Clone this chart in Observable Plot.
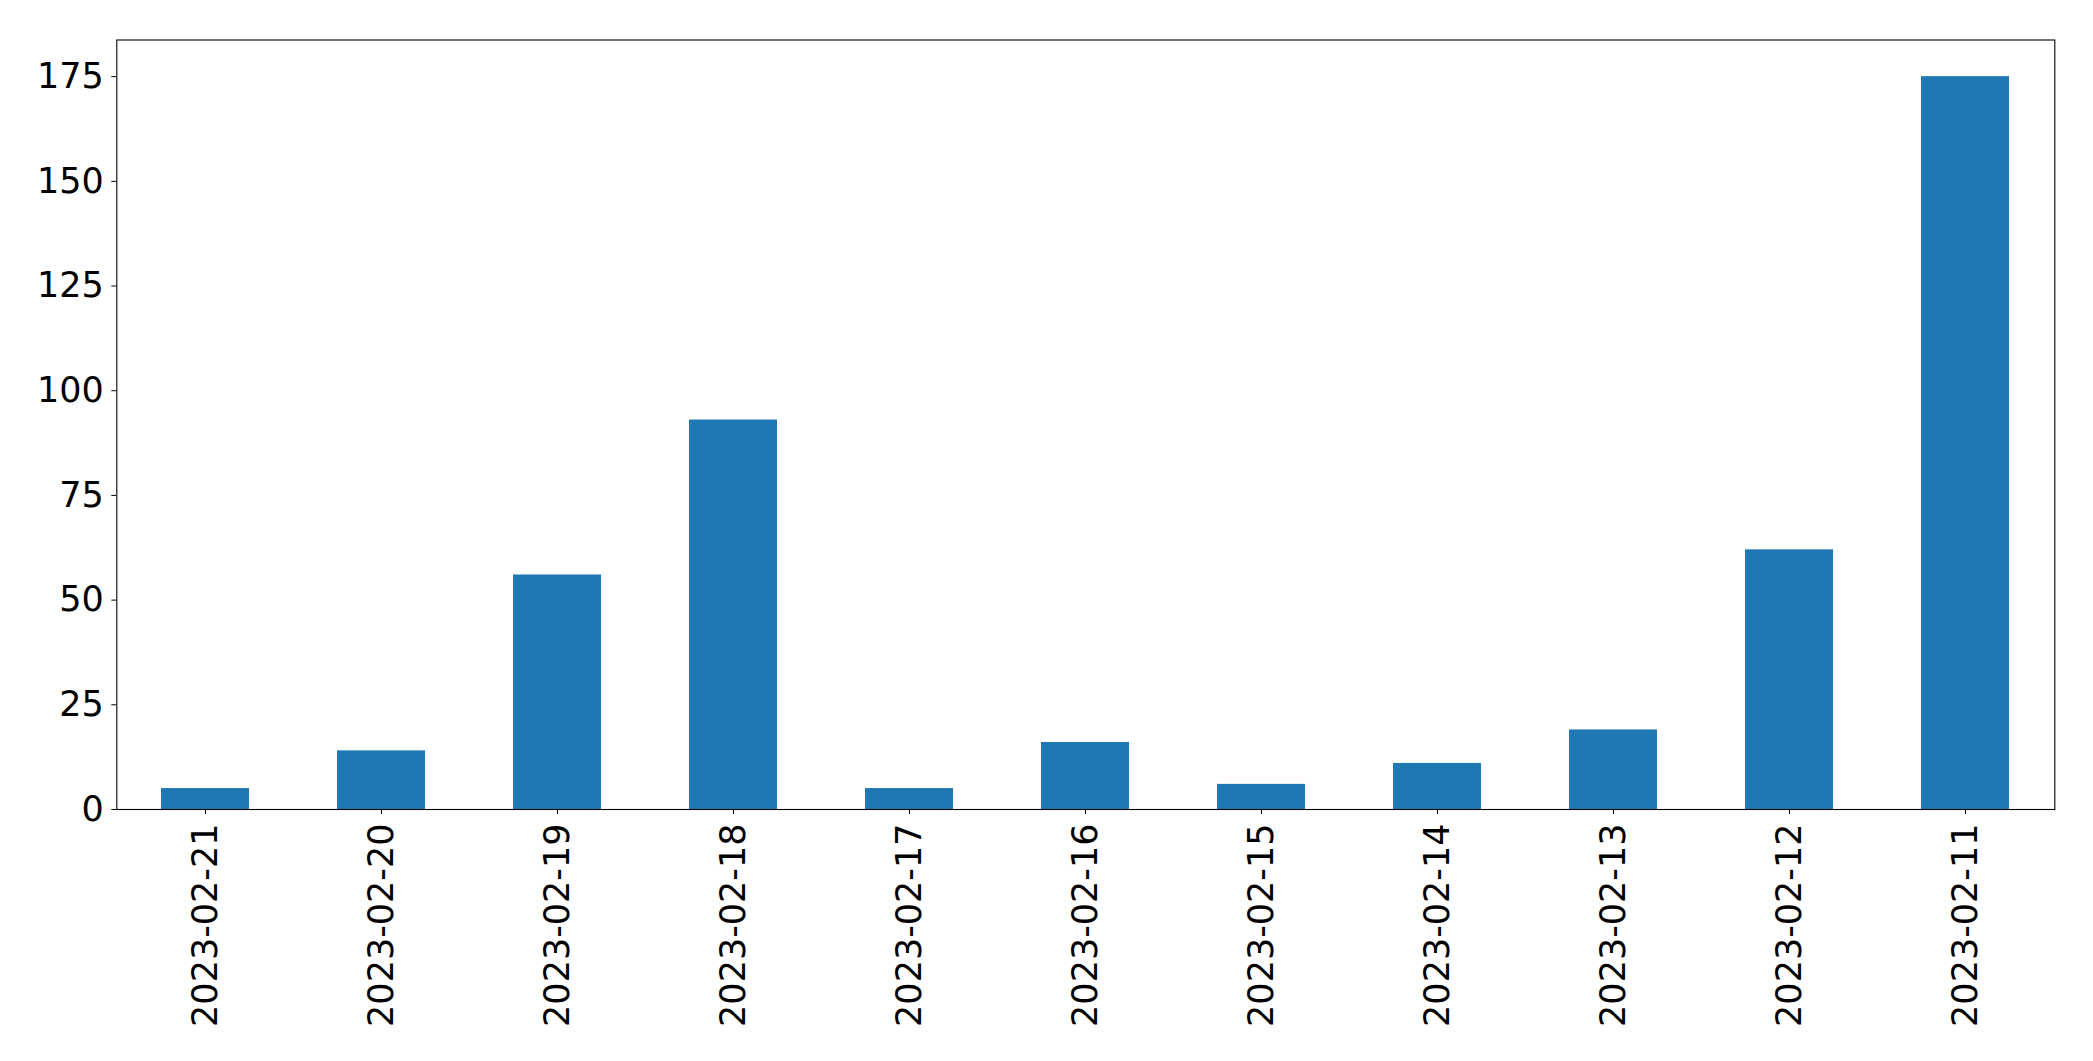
<!DOCTYPE html>
<html>
<head>
<meta charset="utf-8">
<script src="https://cdn.jsdelivr.net/npm/d3@7"></script>
<script src="https://cdn.jsdelivr.net/npm/@observablehq/plot@0.6"></script>
<style>
  html, body { margin: 0; padding: 0; background: #fff; }
  #chart svg { display: block; }
</style>
</head>
<body>
<div id="chart"></div>
<script>
const dates = ["2023-02-21", "2023-02-20", "2023-02-19", "2023-02-18", "2023-02-17", "2023-02-16", "2023-02-15", "2023-02-14", "2023-02-13", "2023-02-12", "2023-02-11"];
const counts = [5, 14, 56, 93, 5, 16, 6, 11, 19, 62, 175];
const yTicks = [0, 25, 50, 75, 100, 125, 150, 175];

const data = dates.map((d, i) => ({date: d, count: counts[i]}));

const chart = Plot.plot({
  width: 2093,
  height: 1061,
  marginLeft: 116.3,
  marginRight: 38.7,
  marginTop: 39.5,
  marginBottom: 252,
  style: {fontFamily: "DejaVu Sans", fontSize: "35px", color: "#000", background: "#fff"},
  x: {domain: dates, paddingInner: 0.5, paddingOuter: 0.25, label: null},
  y: {domain: [0, 183.75], label: null},
  marks: [
    Plot.barY(data, {x: "date", y: "count", fill: "#1f77b4"}),
    Plot.frame({stroke: "#000", strokeWidth: 1.1}),
    Plot.axisY({ticks: yTicks, tickSize: 5, tickPadding: 8, fontSize: 35, tickFormat: d => String(d), label: null}),
    Plot.axisX({tickSize: 5, tickPadding: 9, tickRotate: -90, fontSize: 35, label: null})
  ]
});
document.getElementById("chart").appendChild(chart);
</script>
</body>
</html>
